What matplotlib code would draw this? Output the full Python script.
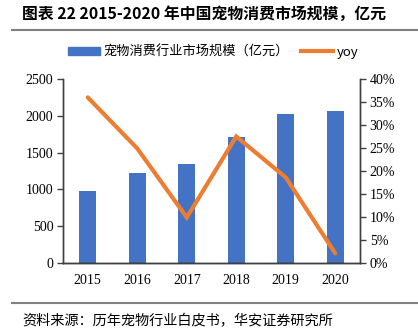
import matplotlib.pyplot as plt
import numpy as np
from matplotlib.lines import Line2D
from matplotlib.patches import Patch

years = ["2015", "2016", "2017", "2018", "2019", "2020"]
market = [978, 1220, 1340, 1708, 2024, 2065]
yoy = [36.0, 24.9, 9.9, 27.5, 18.6, 2.1]

cjk = ["Noto Sans CJK SC", "DejaVu Sans"]
serif = "Liberation Serif"
blue = "#4472C4"
orange = "#ED7D31"

fig = plt.figure(figsize=(4.18, 3.32), dpi=100)
ax = fig.add_axes([63 / 418, 69 / 332, 297 / 418, 184 / 332])
ax2 = ax.twinx()

x = np.arange(len(years))
ax.bar(x, market, width=0.335, color=blue, zorder=2)
ax2.plot(x, yoy, color=orange, lw=3, solid_capstyle="round", solid_joinstyle="miter", zorder=3)

ax.set_xlim(-0.5, len(years) - 0.5)
ax.set_ylim(0, 2500)
ax.set_yticks(np.arange(0, 2501, 500))
ax2.set_ylim(0, 40)
ax2.set_yticks(np.arange(0, 41, 5))
ax2.set_yticklabels([f"{v}%" for v in range(0, 41, 5)])
ax.set_xticks(x)
ax.set_xticklabels(years)

for a in (ax, ax2):
    a.spines["top"].set_visible(False)
    for s in ("left", "right", "bottom"):
        a.spines[s].set_color("#404040")
        a.spines[s].set_linewidth(1.0)
    for lab in a.get_yticklabels() + a.get_xticklabels():
        lab.set_fontfamily(serif)
        lab.set_fontsize(10)
ax.spines["bottom"].set_color("black")
ax.tick_params(axis="x", length=0, pad=8)
ax.tick_params(axis="y", length=4, width=1, color="#404040", pad=3)
ax2.tick_params(axis="y", length=4, width=1, color="#404040", pad=3)
ax.set_zorder(ax2.get_zorder() - 1)
ax2.patch.set_visible(False)

# title, rules and source
fig.text(22 / 418, 1 - 14 / 332, "图表 22 2015-2020 年中国宠物消费市场规模，亿元",
         family=cjk, fontsize=11.4, fontweight="bold", va="center", ha="left")
fig.add_artist(Line2D([12 / 418, 1], [1 - 30 / 332] * 2, color="#808080", lw=1.5))
fig.add_artist(Line2D([12 / 418, 1], [1 - 303 / 332] * 2, color="#808080", lw=1.5))
fig.text(22 / 418, 1 - 321 / 332, "资料来源：历年宠物行业白皮书，华安证券研究所",
         family=cjk, fontsize=10.2, va="center", ha="left")

handles = [Patch(color=blue), Line2D([], [], color=orange, lw=3)]
leg = fig.legend(handles, ["宠物消费行业市场规模（亿元）", "yoy"], loc="center",
                 bbox_to_anchor=(0.51, 1 - 52 / 332), ncol=2, frameon=False,
                 prop={"family": cjk, "size": 9.5}, handlelength=2.4, handleheight=0.6,
                 columnspacing=0.9, handletextpad=0.3)

fig.savefig("out.png", dpi=100)
